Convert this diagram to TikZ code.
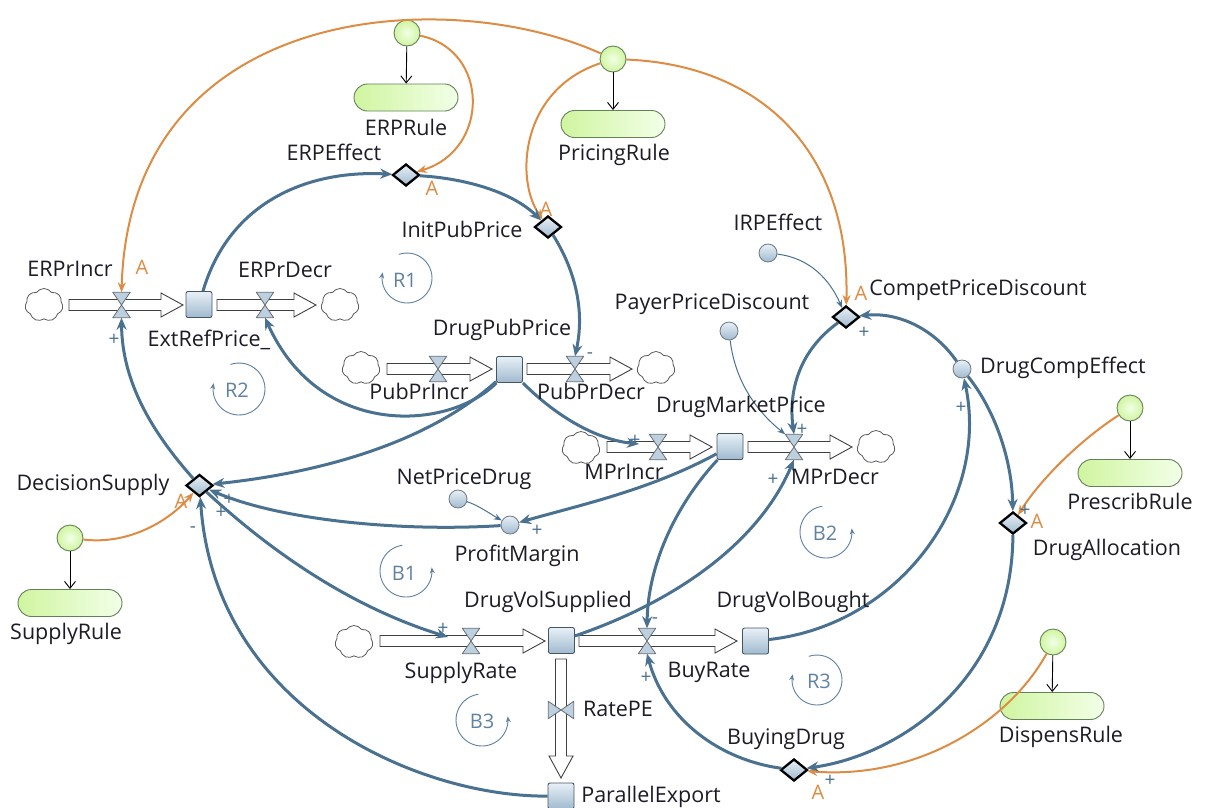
\documentclass[tikz,border=0pt]{standalone}
\usepackage{fontspec}
\setmainfont{Open Sans}
\usetikzlibrary{arrows.meta,shapes.geometric,shapes.symbols,shapes.misc}
\definecolor{conn}{RGB}{74,114,144}
\definecolor{orng}{RGB}{221,140,68}
\definecolor{txt}{RGB}{28,28,38}
\definecolor{loopc}{RGB}{96,130,160}
\definecolor{stockline}{RGB}{70,85,100}
\definecolor{stocktop}{RGB}{232,240,247}
\definecolor{stockbot}{RGB}{160,186,206}
\definecolor{greenline}{RGB}{100,130,88}
\definecolor{greenA}{RGB}{208,245,160}
\definecolor{greenB}{RGB}{242,255,232}
\definecolor{valvefill}{RGB}{190,208,222}
\definecolor{valveline}{RGB}{100,110,120}
\definecolor{cloudline}{RGB}{90,90,90}
\tikzset{
 lbl/.style={font=\fontsize{21.5}{24}\selectfont, text=txt, inner sep=0pt, anchor=base},
 sgn/.style={font=\fontsize{19}{21}\selectfont, text=conn, inner sep=0pt},
 alab/.style={font=\fontsize{20}{22}\selectfont, text=orng, inner sep=0pt},
 looplbl/.style={font=\fontsize{20}{22}\selectfont, text=loopc, inner sep=0pt},
 loopline/.style={draw=loopc, line width=0.9pt, -{Stealth[length=6pt,width=5pt]}},
 stocknode/.style={rectangle, rounded corners=2pt, minimum size=26pt, inner sep=0pt, draw=stockline, line width=0.9pt, top color=stocktop, bottom color=stockbot},
 auxnode/.style={circle, minimum size=18pt, inner sep=0pt, draw=stockline!80, line width=0.8pt, top color=stocktop, bottom color=stockbot},
 decnode/.style={diamond, minimum width=27pt, minimum height=22pt, inner sep=0pt, draw=black, line width=2.3pt, top color=stocktop, bottom color=stockbot},
 rulecirc/.style={circle, minimum size=26pt, inner sep=0pt, draw=greenline, line width=0.9pt, inner color=greenB, outer color=greenA},
 rulerect/.style={rounded rectangle, minimum width=104pt, minimum height=27pt, inner sep=0pt, draw=greenline, line width=0.9pt, left color=greenA, right color=greenB},
 cloudnode/.style={cloud, cloud puffs=7, cloud puff arc=110, aspect=1.15, minimum width=38pt, minimum height=33pt, inner sep=0pt, draw=cloudline, line width=0.8pt, fill=white},
 valvebox/.style={rectangle, minimum width=17pt, minimum height=25pt, inner sep=0pt},
 valvevbox/.style={rectangle, minimum width=25pt, minimum height=17pt, inner sep=0pt},
 vshape/.style={draw=valveline, line width=0.8pt, fill=valvefill, line join=round},
 pipestyle/.style={draw=black!75, line width=0.9pt, fill=white, line join=miter},
 mainlink/.style={draw=conn, line width=3pt, -{Stealth[length=12pt,width=10pt]}},
 infolink/.style={draw=conn, line width=1pt, -{Stealth[length=8pt,width=6pt]}},
 orangelink/.style={draw=orng, line width=2pt, -{Stealth[length=10pt,width=8pt]}},
 rulelink/.style={draw=black, line width=0.9pt, -{Straight Barb[length=7pt,width=11pt]}},
}
\newcommand\pipeH[3]{%
  \draw[pipestyle] (#1,#3-5.5) -- (#2-22,#3-5.5) -- (#2-22,#3-12) -- (#2,#3) -- (#2-22,#3+12) -- (#2-22,#3+5.5) -- (#1,#3+5.5) -- cycle;}
\newcommand\pipeV[3]{%
  \draw[pipestyle] (#1-5.5,#2) -- (#1-5.5,#3-22) -- (#1-12,#3-22) -- (#1,#3) -- (#1+12,#3-22) -- (#1+5.5,#3-22) -- (#1+5.5,#2) -- cycle;}
\newcommand\valveH[3]{\node[valvebox] (#1) at (#2,#3) {};
  \draw[vshape] (#1.north west) -- (#1.north east) -- (#1.south west) -- (#1.south east) -- cycle;}
\newcommand\valveV[3]{\node[valvevbox] (#1) at (#2,#3) {};
  \draw[vshape] (#1.north west) -- (#1.south west) -- (#1.north east) -- (#1.south east) -- cycle;}
\begin{document}
\begin{tikzpicture}[x=1pt,y=-1pt]
\useasboundingbox (0,0) rectangle (1208,807);
\fill[white] (0,0) rectangle (1208,807);

% rules
\node[rulecirc] (gERP) at (407,33) {};
\node[rulerect] (rERP) at (406,97.5) {};
\node[rulecirc] (gPR) at (613,59) {};
\node[rulerect] (rPR) at (613,124) {};
\node[rulecirc] (gPresc) at (1130,408) {};
\node[rulerect] (rPresc) at (1130,473) {};
\node[rulecirc] (gDisp) at (1053,642) {};
\node[rulerect] (rDisp) at (1052,706) {};
\node[rulecirc] (gSup) at (70,538) {};
\node[rulerect] (rSup) at (70,603) {};

% pipes
\pipeH{69}{183}{305}
\pipeH{217}{316}{305}
\pipeH{387}{492}{369}
\pipeH{527}{632}{369}
\pipeH{607}{712}{447}
\pipeH{748}{852}{447}
\pipeH{380}{545}{641}
\pipeH{579}{737}{641}
\pipeV{561}{659}{778}

% clouds
\node[cloudnode] (c1) at (44,305) {};
\node[cloudnode] (c2) at (340,305) {};
\node[cloudnode] (c3) at (361,368) {};
\node[cloudnode] (c4) at (656,368) {};
\node[cloudnode] (c5) at (581,448) {};
\node[cloudnode] (c6) at (876,447) {};
\node[cloudnode] (c7) at (354,642) {};

% valves
\valveH{vERPI}{121.5}{305}
\valveH{vERPD}{265}{305}
\valveH{vPPI}{438}{369}
\valveH{vPPD}{575}{369}
\valveH{vMPI}{658}{447}
\valveH{vMPD}{794}{447}
\valveH{vSR}{471}{641}
\valveH{vBR}{647}{641}
\valveV{vRPE}{561}{710}

% stocks
\node[stocknode] (sERP) at (199,304.5) {};
\node[stocknode] (sDPP) at (509.5,369.5) {};
\node[stocknode] (sDMP) at (730,446.5) {};
\node[stocknode] (sDVS) at (561.5,640.5) {};
\node[stocknode] (sDVB) at (755.5,641) {};
\node[stocknode] (sPE) at (561,796) {};

% auxiliaries
\node[auxnode] (aIRP) at (768,253) {};
\node[auxnode] (aPPD) at (729,331) {};
\node[auxnode] (aDCE) at (962,369) {};
\node[auxnode] (aNPD) at (458,499) {};
\node[auxnode] (aPM) at (510,525) {};

% decisions
\node[decnode] (dERP) at (406,175) {};
\node[decnode] (dInit) at (548,227) {};
\node[decnode] (dCPD) at (846,317) {};
\node[decnode] (dDS) at (199.5,485.5) {};
\node[decnode] (dDA) at (1013,523) {};
\node[decnode] (dBD) at (794,770) {};

\coordinate (pMI) at (639,444);
\coordinate (pSR) at (448,637);

% rule arrows
\draw[rulelink] (gERP) -- (rERP);
\draw[rulelink] (gPR) -- (rPR);
\draw[rulelink] (gPresc) -- (rPresc);
\draw[rulelink] (gDisp) -- (rDisp);
\draw[rulelink] (gSup) -- (rSup);

% orange links
\draw[orangelink] (gPR) .. controls (450,-15) and (130,0) .. (vERPI.north);
\draw[orangelink] (gERP) .. controls (490,50) and (490,150) .. (dERP);
\draw[orangelink] (gPR) .. controls (520,90) and (515,180) .. (dInit);
\draw[orangelink] (gPR) .. controls (760,65) and (850,150) .. (dCPD);
\draw[orangelink] (gPresc) .. controls (1080,440) and (1040,480) .. (dDA);
\draw[orangelink] (gDisp) .. controls (1010,720) and (920,780) .. (dBD);
\draw[orangelink] (gSup) .. controls (130,545) and (170,520) .. (dDS);

% main links
\draw[mainlink] (sERP) .. controls (230,200) and (310,170) .. (dERP);
\draw[mainlink] (dERP) .. controls (460,178) and (510,190) .. (dInit);
\draw[mainlink] (dInit) .. controls (575,270) and (585,310) .. (vPPD.north);
\draw[mainlink] (sDPP) .. controls (450,430) and (320,440) .. (vERPD.south);
\draw[mainlink] (sDPP) .. controls (420,450) and (300,475) .. (dDS);
\draw[mainlink] (sDPP) .. controls (560,420) and (600,440) .. (pMI);
\draw[mainlink] (sDMP) .. controls (650,490) and (580,505) .. (aPM);
\draw[mainlink] (aPM) .. controls (400,532) and (280,520) .. (dDS);
\draw[mainlink] (dDS) .. controls (280,560) and (360,610) .. (pSR);
\draw[mainlink] (dDS) .. controls (150,430) and (122,380) .. (vERPI.south);
\draw[mainlink] (sPE) .. controls (420,797) and (215,710) .. (dDS);
\draw[mainlink] (sDVS) .. controls (680,600) and (760,540) .. (vMPD.south);
\draw[mainlink] (sDMP) .. controls (680,500) and (648,560) .. (vBR.north);
\draw[mainlink] (dCPD) .. controls (800,350) and (788,390) .. (vMPD.north);
\draw[mainlink] (aDCE) .. controls (935,330) and (900,312) .. (dCPD);
\draw[mainlink] (aDCE) .. controls (995,410) and (1012,460) .. (dDA);
\draw[mainlink] (sDVB) .. controls (900,625) and (990,500) .. (aDCE);
\draw[mainlink] (dDA) .. controls (1012,680) and (900,755) .. (dBD);
\draw[mainlink] (dBD) .. controls (720,760) and (665,720) .. (vBR.south);

% info links
\draw[infolink] (aNPD) .. controls (478,505) and (492,515) .. (aPM);
\draw[infolink] (aPPD) .. controls (735,380) and (755,410) .. (vMPD.north west);
\draw[infolink] (aIRP) .. controls (810,258) and (830,280) .. (dCPD);

% labels
\node[lbl] (tERPRule) at (406,135) {ERPRule};
\node[lbl] (tPricing) at (614,160) {PricingRule};
\node[lbl] (tERPEff) at (334,160) {ERPEffect};
\node[lbl] (tInit) at (462,237) {InitPubPrice};
\node[lbl] (tIRP) at (778,230) {IRPEffect};
\node[lbl] (tERPI) at (70,276) {ERPrIncr};
\node[lbl] (tERPD) at (285,277) {ERPrDecr};
\node[lbl] (tCPD) at (978,295) {CompetPriceDiscount};
\node[lbl] (tPPD) at (712,309) {PayerPriceDiscount};
\node[lbl] (tDPP) at (502,335) {DrugPubPrice};
\node[lbl] (tERP) at (209,346) {ExtRefPrice\_};
\node[lbl] (tDCE) at (1063,373) {DrugCompEffect};
\node[lbl] (tPPI) at (419,399) {PubPrIncr};
\node[lbl] (tPPDc) at (591,399) {PubPrDecr};
\node[lbl] (tDMP) at (741,412) {DrugMarketPrice};
\node[lbl] (tMPI) at (624,479) {MPrIncr};
\node[lbl] (tMPD) at (835,484) {MPrDecr};
\node[lbl] (tNPD) at (464,484) {NetPriceDrug};
\node[lbl] (tDS) at (93,490) {DecisionSupply};
\node[lbl] (tPresc) at (1130,509) {PrescribRule};
\node[lbl] (tDA) at (1107,555) {DrugAllocation};
\node[lbl] (tPM) at (517,561) {ProfitMargin};
\node[lbl] (tDVS) at (548,607) {DrugVolSupplied};
\node[lbl] (tDVB) at (793,607) {DrugVolBought};
\node[lbl] (tSup) at (66,639) {SupplyRule};
\node[lbl] (tSR) at (461,678) {SupplyRate};
\node[lbl] (tBR) at (709,677) {BuyRate};
\node[lbl] (tRPE) at (618,716) {RatePE};
\node[lbl] (tBD) at (786,744) {BuyingDrug};
\node[lbl] (tDisp) at (1061,742) {DispensRule};
\node[lbl] (tPE) at (651,802) {ParallelExport};

% orange A labels
\node[alab] (A1) at (142,267) {A};
\node[alab] (A2) at (432,188) {A};
\node[alab] (A3) at (546,209) {A};
\node[alab] (A4) at (861,293) {A};
\node[alab] (A5) at (181,501) {A};
\node[alab] (A6) at (1037,521) {A};
\node[alab] (A7) at (818,792) {A};

% signs
\node[sgn] (g1) at (114,340) {+};
\node[sgn] (g2) at (590,356) {-};
\node[sgn] (g3) at (635,441) {+};
\node[sgn] (g4) at (537,531) {+};
\node[sgn] (g5) at (229,500) {+};
\node[sgn] (g6) at (221,513) {+};
\node[sgn] (g7) at (193,530) {-};
\node[sgn] (g8) at (443,629) {+};
\node[sgn] (g9) at (655,621) {-};
\node[sgn] (g10) at (646,678) {+};
\node[sgn] (g11) at (802,430) {+};
\node[sgn] (g12) at (773,480) {+};
\node[sgn] (g13) at (864,333) {+};
\node[sgn] (g14) at (961,408) {+};
\node[sgn] (g15) at (1025,511) {+};
\node[sgn] (g16) at (830,781) {+};

% loops
\node[looplbl] (lR1) at (405,280) {R1};
\draw[loopline] plot[smooth, samples=40, domain=0:1, variable=\t] ({407+25*cos(251+302*\t)}, {278+25*sin(251+302*\t)});
\node[looplbl] (lR2) at (237,390) {R2};
\draw[loopline] plot[smooth, samples=40, domain=0:1, variable=\t] ({239+26*cos(251+302*\t)}, {389+26*sin(251+302*\t)});
\node[looplbl] (lR3) at (819,681) {R3};
\draw[loopline] plot[smooth, samples=40, domain=0:1, variable=\t] ({817+25*cos(251+302*\t)}, {680+25*sin(251+302*\t)});
\node[looplbl] (lB1) at (404,573) {B1};
\draw[loopline] plot[smooth, samples=40, domain=0:1, variable=\t] ({406+26*cos(262-270*\t)}, {571+26*sin(262-270*\t)});
\node[looplbl] (lB2) at (825,533) {B2};
\draw[loopline] plot[smooth, samples=40, domain=0:1, variable=\t] ({826+26*cos(262-270*\t)}, {532+26*sin(262-270*\t)});
\node[looplbl] (lB3) at (482,721) {B3};
\draw[loopline] plot[smooth, samples=40, domain=0:1, variable=\t] ({482+26*cos(262-270*\t)}, {720+26*sin(262-270*\t)});
\end{tikzpicture}
\end{document}
